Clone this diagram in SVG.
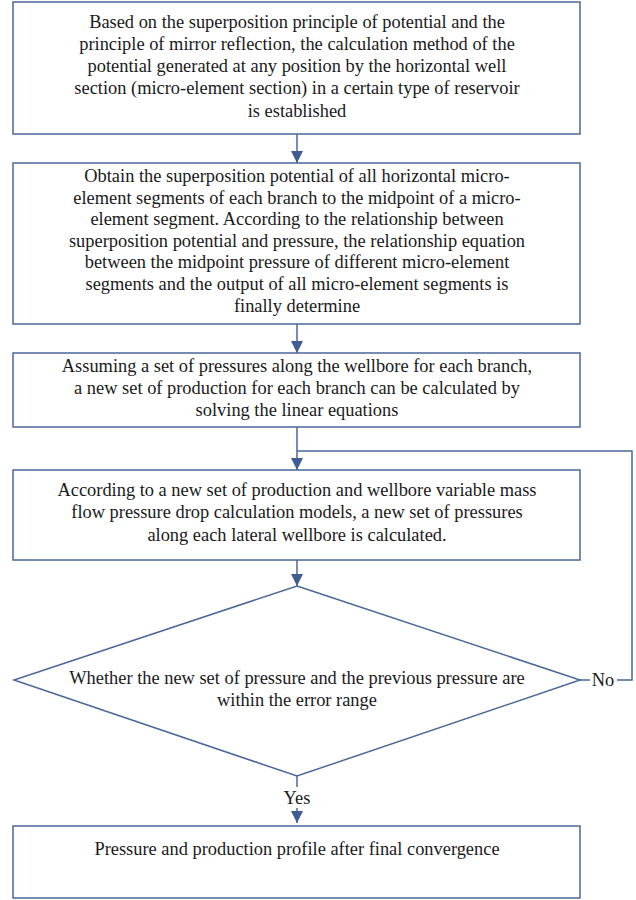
<svg xmlns="http://www.w3.org/2000/svg" width="636" height="900" viewBox="0 0 636 900">
<style>
.box{fill:#fff;stroke:#4a679b;stroke-width:1.5}
.ln{fill:none;stroke:#4a679b;stroke-width:1.5}
text{font-family:"Liberation Serif","Times New Roman",serif;font-size:18.4px;fill:#1a1a1a;text-anchor:middle}
</style>
<defs>
<marker id="ah" viewBox="0 0 12 12" refX="12" refY="6" markerWidth="12" markerHeight="12" markerUnits="userSpaceOnUse" orient="auto">
<path d="M0,0 L12,6 L0,12 Z" fill="#3f5d92"/>
</marker>
</defs>
<rect width="636" height="900" fill="#fff"/>
<g id="connectors">
<line class="ln" x1="297" y1="134" x2="297" y2="163" marker-end="url(#ah)"/>
<line class="ln" x1="297" y1="324" x2="297" y2="353" marker-end="url(#ah)"/>
<line class="ln" x1="297" y1="427" x2="297" y2="470" marker-end="url(#ah)"/>
<line class="ln" x1="297" y1="560" x2="297" y2="586" marker-end="url(#ah)"/>
<line class="ln" x1="297" y1="776" x2="297" y2="787"/>
<line class="ln" x1="297" y1="808" x2="297" y2="823" marker-end="url(#ah)"/>
<line class="ln" x1="580" y1="680" x2="590" y2="680"/>
<polyline class="ln" points="617,680 632,680 632,451 297,451"/>
<text x="603" y="686">No</text>
<text x="297" y="804">Yes</text>
</g>
<g id="n1">
<rect class="box" x="13" y="2" width="567" height="132"/>
<text x="297" y="28">Based on the superposition principle of potential and the</text>
<text x="297" y="50">principle of mirror reflection, the calculation method of the</text>
<text x="297" y="72">potential generated at any position by the horizontal well</text>
<text x="297" y="94">section (micro-element section) in a certain type of reservoir</text>
<text x="297" y="117">is established</text>
</g>
<g id="n2">
<rect class="box" x="13" y="163" width="567" height="161"/>
<text x="297" y="182">Obtain the superposition potential of all horizontal micro-</text>
<text x="297" y="203.5">element segments of each branch to the midpoint of a micro-</text>
<text x="297" y="225">element segment. According to the relationship between</text>
<text x="297" y="247">superposition potential and pressure, the relationship equation</text>
<text x="297" y="268">between the midpoint pressure of different micro-element</text>
<text x="297" y="290">segments and the output of all micro-element segments is</text>
<text x="297" y="312">finally determine</text>
</g>
<g id="n3">
<rect class="box" x="13" y="353" width="567" height="74"/>
<text x="297" y="372">Assuming a set of pressures along the wellbore for each branch,</text>
<text x="297" y="394">a new set of production for each branch can be calculated by</text>
<text x="297" y="416">solving the linear equations</text>
</g>
<g id="n4">
<rect class="box" x="13" y="470" width="567" height="90"/>
<text x="297" y="496">According to a new set of production and wellbore variable mass</text>
<text x="297" y="518">flow pressure drop calculation models, a new set of pressures</text>
<text x="297" y="541">along each lateral wellbore is calculated.</text>
</g>
<g id="n5">
<polygon class="box" points="297,586 580,680 297,776 14,680"/>
<text x="297" y="684">Whether the new set of pressure and the previous pressure are</text>
<text x="297" y="706">within the error range</text>
</g>
<g id="n6">
<rect class="box" x="13" y="826" width="567" height="72"/>
<text x="297" y="855">Pressure and production profile after final convergence</text>
</g>
</svg>
